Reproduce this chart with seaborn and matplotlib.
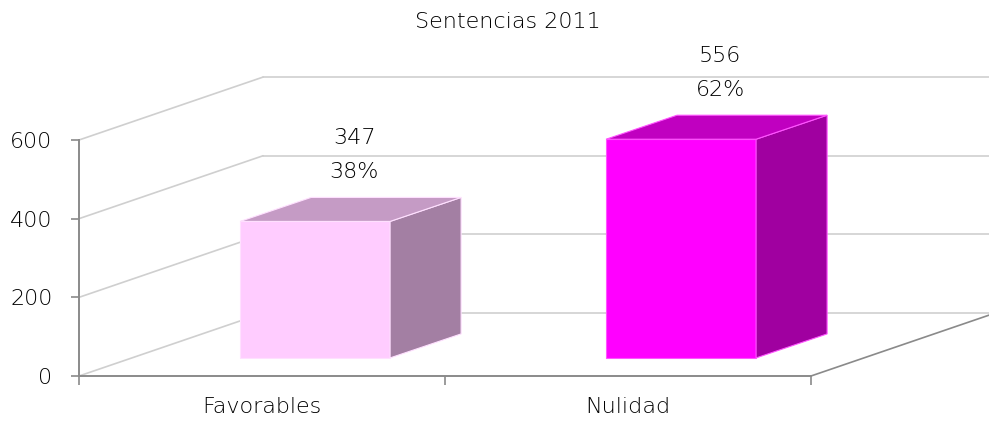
import matplotlib
matplotlib.use("Agg")
import matplotlib.pyplot as plt
import matplotlib.transforms as mtransforms
from matplotlib.patches import Polygon
import seaborn as sns
import pandas as pd

# =========================
# DATA
# =========================

categories = ["Favorables", "Nulidad"]
counts = [347, 556]
percents = ["38%", "62%"]
y_ticks = [0, 200, 400, 600]
title = "Sentencias 2011"

front_colors = ["#FFCCFF", "#FF00FF"]
top_colors = ["#C59BC5", "#C000C0"]
side_colors = ["#A37FA3", "#A000A0"]
edge_colors = ["#FFE0FF", "#FF55FF"]

# =========================
# FAKE 3D GEOMETRY (data units)
# =========================

WALL_DX, WALL_DY = 0.503, 160      # full depth of the chart box
BAR_OFF_X, BAR_OFF_Y = 0.145, 46   # bar front face set back from the floor edge
BAR_DX, BAR_DY = 0.194, 61         # bar depth
BAR_WIDTH = 0.41

GRID = "#CFCFCF"
AXIS = "#8A8A8A"
TEXT = "#000000"
FS = 16

sns.set_theme(style="white")
plt.rcParams['font.family'] = ['DejaVu Sans']
plt.rcParams['font.weight'] = 'light'

fig = plt.figure(figsize=(9.89, 4.25), dpi=100)
ax = fig.add_axes([79 / 989, 49 / 425, 732 / 989, 236 / 425])

df = pd.DataFrame({"cat": categories, "n": counts})
sns.barplot(data=df, x="cat", y="n", hue="cat", palette=front_colors,
            width=BAR_WIDTH, saturation=1, legend=False, ax=ax, zorder=4)

ax.set_xlim(-0.5, len(categories) - 0.5)
ax.set_ylim(0, max(y_ticks))
x0, x1 = ax.get_xlim()

# walls: left wall diagonals and back wall lines
for v in y_ticks:
    ax.plot([x0, x0 + WALL_DX], [v, v + WALL_DY], color=GRID, lw=1.2,
            clip_on=False, zorder=1)
    ax.plot([x0 + WALL_DX, x1 + WALL_DX], [v + WALL_DY, v + WALL_DY],
            color=GRID, lw=1.2, clip_on=False, zorder=1)

# floor right edge
ax.plot([x1, x1 + WALL_DX], [0, WALL_DY], color=AXIS, lw=1.2,
        clip_on=False, zorder=2)

# bars: shift the front faces back and add side/top faces
shift = mtransforms.Affine2D().translate(BAR_OFF_X, BAR_OFF_Y) + ax.transData
for i, patch in enumerate(ax.patches[:len(categories)]):
    patch.set_transform(shift)
    patch.set_clip_on(False)
    patch.set_edgecolor(edge_colors[i])
    patch.set_linewidth(0.8)
    bx = patch.get_x() + BAR_OFF_X
    bw = patch.get_width()
    by = BAR_OFF_Y
    bh = patch.get_height()
    side = Polygon([(bx + bw, by), (bx + bw + BAR_DX, by + BAR_DY),
                    (bx + bw + BAR_DX, by + bh + BAR_DY), (bx + bw, by + bh)],
                   closed=True, facecolor=side_colors[i], edgecolor=edge_colors[i],
                   lw=0.8, clip_on=False, zorder=4)
    top = Polygon([(bx, by + bh), (bx + bw, by + bh),
                   (bx + bw + BAR_DX, by + bh + BAR_DY), (bx + BAR_DX, by + bh + BAR_DY)],
                  closed=True, facecolor=top_colors[i], edgecolor=edge_colors[i],
                  lw=0.8, clip_on=False, zorder=4)
    ax.add_patch(side)
    ax.add_patch(top)

    cx = bx + bw / 2 + BAR_DX / 2 + 0.01
    top_back = by + bh + BAR_DY
    ax.text(cx, top_back + 150, str(counts[i]), ha="center", va="center",
            fontsize=FS, color=TEXT)
    ax.text(cx, top_back + 65, percents[i], ha="center", va="center",
            fontsize=FS, color=TEXT)

# axes styling
for s in ["top", "right"]:
    ax.spines[s].set_visible(False)
for s in ["left", "bottom"]:
    ax.spines[s].set_color(AXIS)
    ax.spines[s].set_linewidth(1.4)
    ax.spines[s].set_zorder(3)

ax.set_yticks(y_ticks)
ax.set_yticklabels([str(v) for v in y_ticks])
ax.tick_params(axis="y", direction="out", length=6, width=1.2, color=AXIS,
               pad=13, labelsize=FS, labelcolor=TEXT, left=True)

ax.set_xticks([x0 + k for k in range(len(categories) + 1)])
ax.set_xticklabels([])
ax.tick_params(axis="x", which="major", direction="out", length=6.5, width=1.2,
               color=AXIS, bottom=True)
ax.set_xticks(range(len(categories)), minor=True)
ax.set_xticklabels(categories, minor=True)
ax.tick_params(axis="x", which="minor", length=0, pad=15, labelsize=FS,
               labelcolor=TEXT)

ax.set_xlabel("")
ax.set_ylabel("")
ax.patch.set_alpha(0)

fig.text(508 / 989, 1 - 22 / 425, title, ha="center", va="center",
         fontsize=FS, color=TEXT)

fig.savefig("out.png", dpi=100)
